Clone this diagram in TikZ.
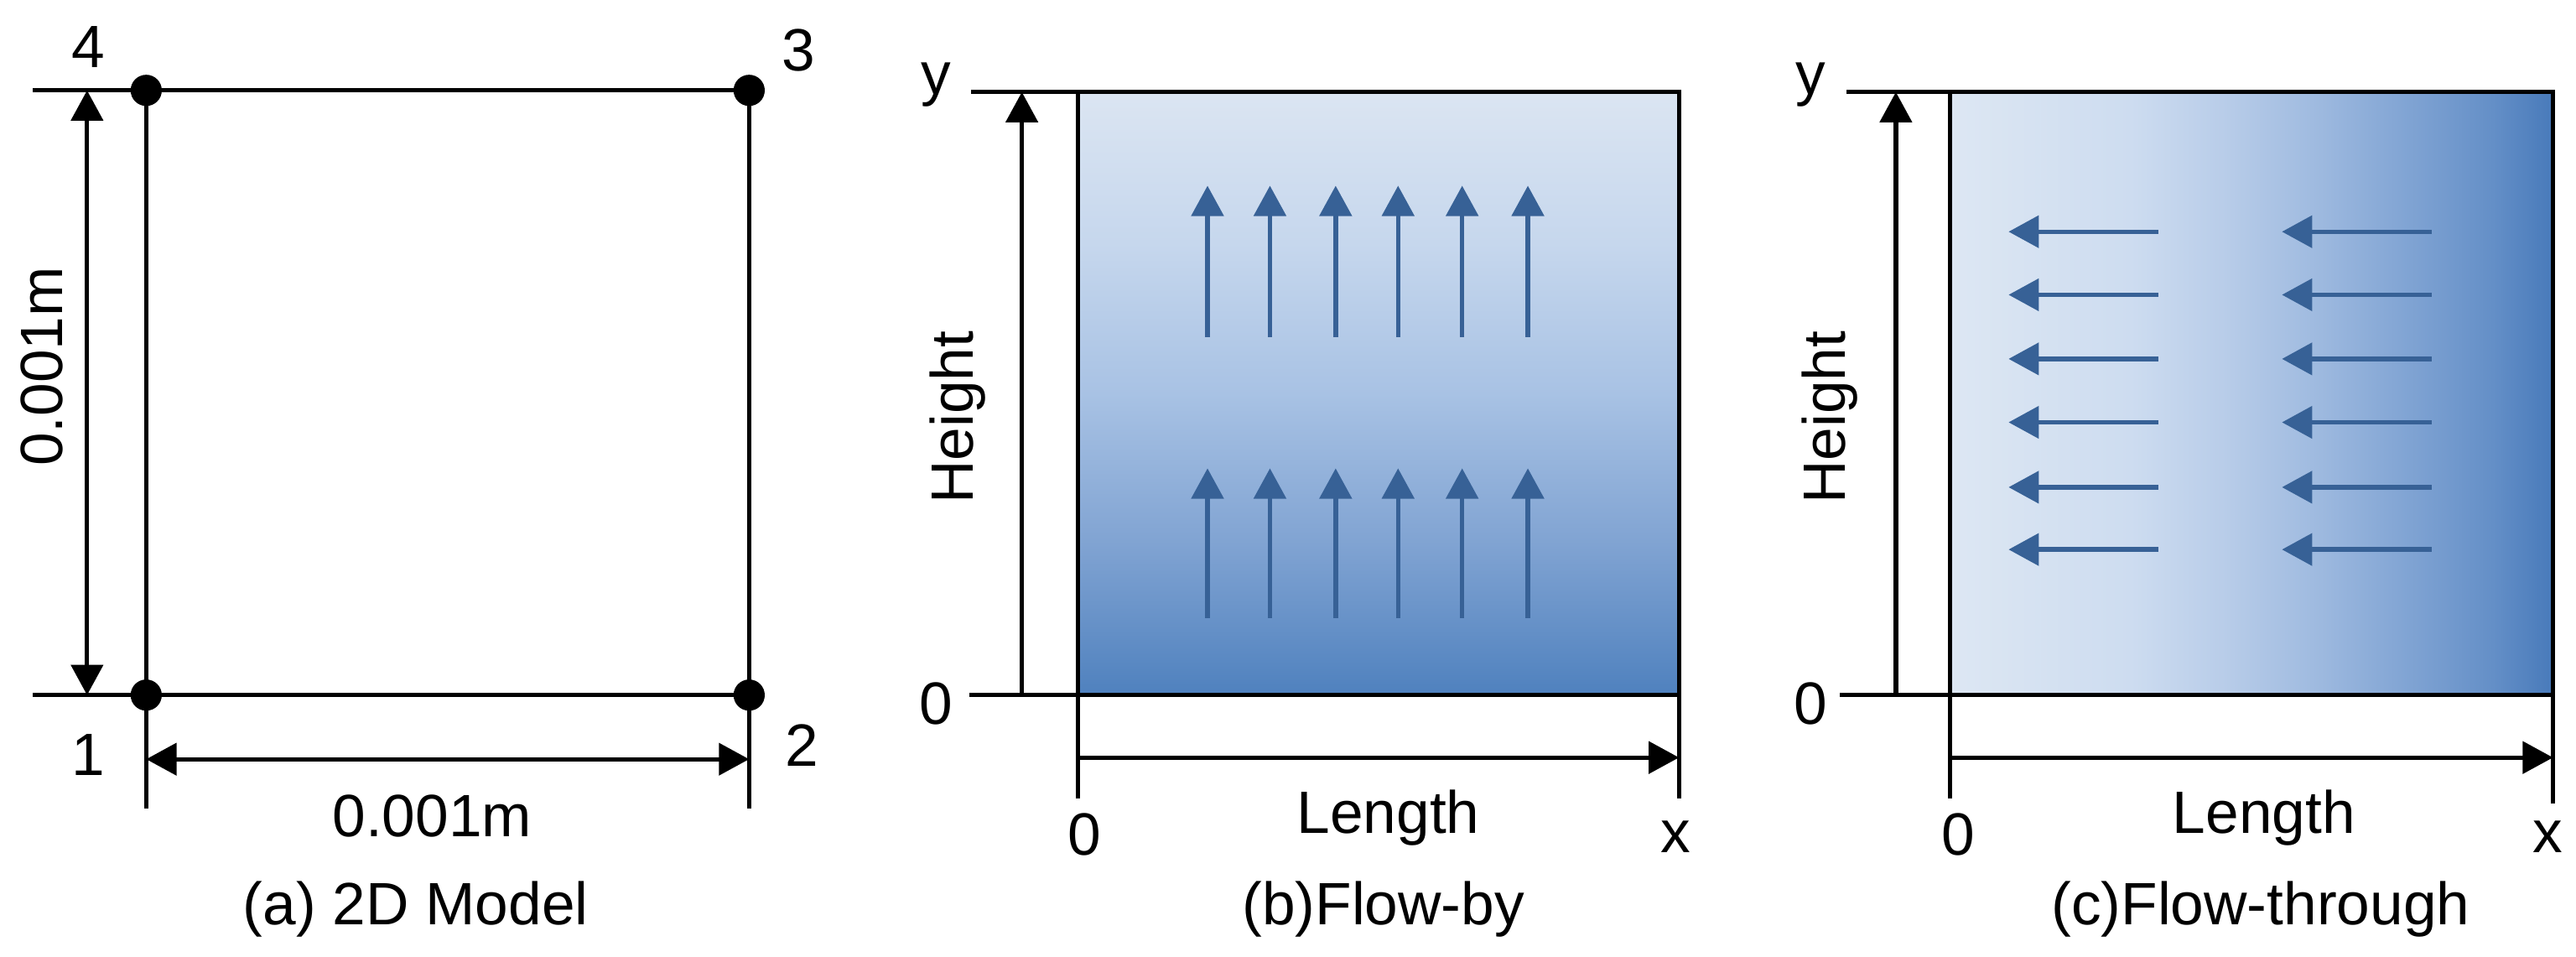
\documentclass[tikz,border=0pt]{standalone}
\usepackage{fontspec}
\setmainfont{Liberation Sans}
\usetikzlibrary{arrows.meta}

\definecolor{flowblue}{RGB}{55,97,150}
\definecolor{byA}{RGB}{79,129,190}
\definecolor{byB}{RGB}{128,163,210}
\definecolor{byC}{RGB}{168,194,228}
\definecolor{byD}{RGB}{198,215,237}
\definecolor{byE}{RGB}{219,229,242}
\definecolor{ftA}{RGB}{221,231,243}
\definecolor{ftB}{RGB}{205,220,240}
\definecolor{ftC}{RGB}{185,205,233}
\definecolor{ftD}{RGB}{160,187,224}
\definecolor{ftE}{RGB}{130,165,212}
\definecolor{ftF}{RGB}{100,143,199}
\definecolor{ftG}{RGB}{72,122,186}

\pgfdeclareverticalshading{flowby}{100bp}{color(0bp)=(byA); color(25bp)=(byA); color(37.5bp)=(byB); color(50bp)=(byC); color(62.5bp)=(byD); color(75bp)=(byE); color(100bp)=(byE)}
\pgfdeclarehorizontalshading{flowthrough}{100bp}{color(0bp)=(ftA); color(25bp)=(ftA); color(40bp)=(ftB); color(47.5bp)=(ftC); color(55bp)=(ftD); color(62.5bp)=(ftE); color(70bp)=(ftF); color(75bp)=(ftG); color(100bp)=(ftG)}

\begin{document}
\begin{tikzpicture}[x=0.02cm, y=-0.02cm, line width=1.5pt, >={Triangle[length=10.5pt,width=11pt]},
		every node/.style={font=\fontsize{20.7}{25}\selectfont, inner sep=0pt}]
	\tikzstyle{corner} = [circle, minimum size=0.38cm, inner sep=0pt, fill=black]
	\tikzstyle{flow}   = [->, flowblue, line width=1.6pt]
	\useasboundingbox (0,0) rectangle (1568,582);

	% (a) 2D model
	\foreach \name/\x/\y in {p1/89/423, p2/456/423, p3/456/55, p4/89/55}
		\node[corner] (\name) at (\x,\y) {};
	\foreach \from/\to in {p1/p2, p2/p3, p3/p4, p4/p1}
		\draw (\from.center) -- (\to.center);

	\coordinate (e4) at (20,55);
	\coordinate (e1) at (20,423);
	\coordinate (d4) at (53,55);
	\coordinate (d1) at (53,423);
	\coordinate (f1) at (89,492);
	\coordinate (f2) at (456,492);
	\coordinate (g1) at (89,462);
	\coordinate (g2) at (456,462);
	\draw (e4) -- (p4.center);
	\draw (e1) -- (p1.center);
	\draw (p1.center) -- (f1);
	\draw (p2.center) -- (f2);
	\draw[<->] (d1) -- (d4);
	\draw[<->] (g1) -- (g2);

	\node[anchor=base] (n4) at (54,41) {4};
	\node[anchor=base] (n3) at (486,43) {3};
	\node[anchor=base] (n1) at (54,472) {1};
	\node[anchor=base] (n2) at (488,466) {2};
	\node[rotate=90] (hsize) at (25.5,223) {0.001m};
	\node[anchor=base] (wsize) at (263,509) {0.001m};
	\node[anchor=base] (capa) at (253,562.5) {(a) 2D Model};

	% (b) flow-by
	\coordinate (b0) at (656,423);
	\coordinate (bx) at (1022,423);
	\coordinate (by) at (656,56);
	\coordinate (bxy) at (1022,56);
	\shadedraw[shading=flowby] (b0) rectangle (bxy);
	\coordinate (bty) at (591,56);
	\coordinate (bt0) at (590,423);
	\coordinate (bv0) at (622,423);
	\coordinate (bvy) at (622,56);
	\coordinate (bl) at (656,486);
	\coordinate (br) at (1022,486);
	\coordinate (bh0) at (656,461);
	\coordinate (bhx) at (1022,461);
	\draw (bty) -- (by);
	\draw (bt0) -- (b0);
	\draw (b0) -- (bl);
	\draw (bx) -- (br);
	\draw[->] (bv0) -- (bvy);
	\draw[->] (bh0) -- (bhx);

	\foreach \x [count=\i] in {735,773,813,851,890,930} {
		\coordinate (bu\i) at (\x,205);
		\coordinate (bU\i) at (\x,113);
		\coordinate (bd\i) at (\x,376);
		\coordinate (bD\i) at (\x,285);
		\draw[flow] (bu\i) -- (bU\i);
		\draw[flow] (bd\i) -- (bD\i);
	}

	\node[anchor=base] (byl) at (570,57.5) {y};
	\node[anchor=base] (b0l) at (570,440.5) {0};
	\node[rotate=90] (bht) at (583,254) {Height};
	\node[anchor=base] (b0b) at (660,520.5) {0};
	\node[anchor=base] (blen) at (845,507) {Length};
	\node[anchor=base] (bxl) at (1020,519) {x};
	\node[anchor=base] (capb) at (842,562.5) {(b)Flow-by};

	% (c) flow-through
	\coordinate (c0) at (1187,423);
	\coordinate (cx) at (1554,423);
	\coordinate (cy) at (1187,56);
	\coordinate (cxy) at (1554,56);
	\shadedraw[shading=flowthrough] (c0) rectangle (cxy);
	\coordinate (cty) at (1124,56);
	\coordinate (ct0) at (1120,423);
	\coordinate (cv0) at (1154,423);
	\coordinate (cvy) at (1154,56);
	\coordinate (cl) at (1187,486);
	\coordinate (cr) at (1554,489);
	\coordinate (ch0) at (1187,461);
	\coordinate (chx) at (1554,461);
	\draw (cty) -- (cy);
	\draw (ct0) -- (c0);
	\draw (c0) -- (cl);
	\draw (cx) -- (cr);
	\draw[->] (cv0) -- (cvy);
	\draw[->] (ch0) -- (chx);

	\foreach \y [count=\i] in {141,179.4,218.4,257,296.5,334.4} {
		\coordinate (cl\i) at (1313.6,\y);
		\coordinate (cL\i) at (1222.6,\y);
		\coordinate (cr\i) at (1480,\y);
		\coordinate (cR\i) at (1389,\y);
		\draw[flow] (cl\i) -- (cL\i);
		\draw[flow] (cr\i) -- (cR\i);
	}

	\node[anchor=base] (cyl) at (1102,57.5) {y};
	\node[anchor=base] (c0l) at (1102,440.5) {0};
	\node[rotate=90] (cht) at (1114,254) {Height};
	\node[anchor=base] (c0b) at (1192,520.5) {0};
	\node[anchor=base] (clen) at (1378,507) {Length};
	\node[anchor=base] (cxl) at (1551,519) {x};
	\node[anchor=base] (capc) at (1376,562.5) {(c)Flow-through};
\end{tikzpicture}
\end{document}
